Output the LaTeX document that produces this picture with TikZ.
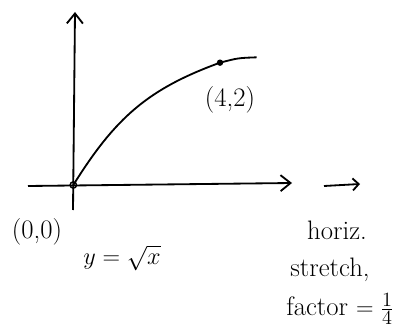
\documentclass[tikz,border=0pt]{standalone}
\usepackage{amsmath}
\usetikzlibrary{arrows.meta}
\begin{document}
\begin{tikzpicture}[every node/.style={font=\fontsize{19}{22}\selectfont,inner sep=1pt},
  pen/.style={line width=1.3pt},
  axis/.style={pen,-{Straight Barb[length=2.5mm,width=4mm]}}]
\useasboundingbox (0,0) rectangle (10.075,8.25);
\coordinate (O) at (1.833,3.625);
\coordinate (yb) at (1.825,3.0);
\coordinate (yt) at (1.875,7.95);
\coordinate (xl) at (0.7,3.6);
\coordinate (xr) at (7.3,3.675);
\coordinate (P) at (5.5,6.683);
\coordinate (E) at (6.417,6.817);
\coordinate (s1) at (8.1,3.6);
\coordinate (s2) at (9.0,3.65);
\draw[axis] (yb)--(yt);
\draw[axis] (xl)--(xr);
\draw[pen] (O) .. controls (2.89,5.32) and (3.71,6.03) .. (P) .. controls (5.95,6.8) .. (E);
\fill (P) circle (0.08);
\draw[line width=1pt] (O) circle (0.08);
\node (lP) at (5.75,5.75) {(4,2)};
\node (lO) at (0.925,2.45) {(0,0)};
\node (lf) at (3.05,1.8) {$y=\sqrt{x}$};
\draw[pen,-{Straight Barb[length=1.5mm,width=3mm]}] (s1)--(s2);
\node (l1) at (8.425,2.5) {horiz.};
\node (l2) at (8.25,1.5) {stretch,};
\node[anchor=base] (l3) at (8.5,0.36) {factor $=\tfrac{1}{4}$};
\end{tikzpicture}
\end{document}
